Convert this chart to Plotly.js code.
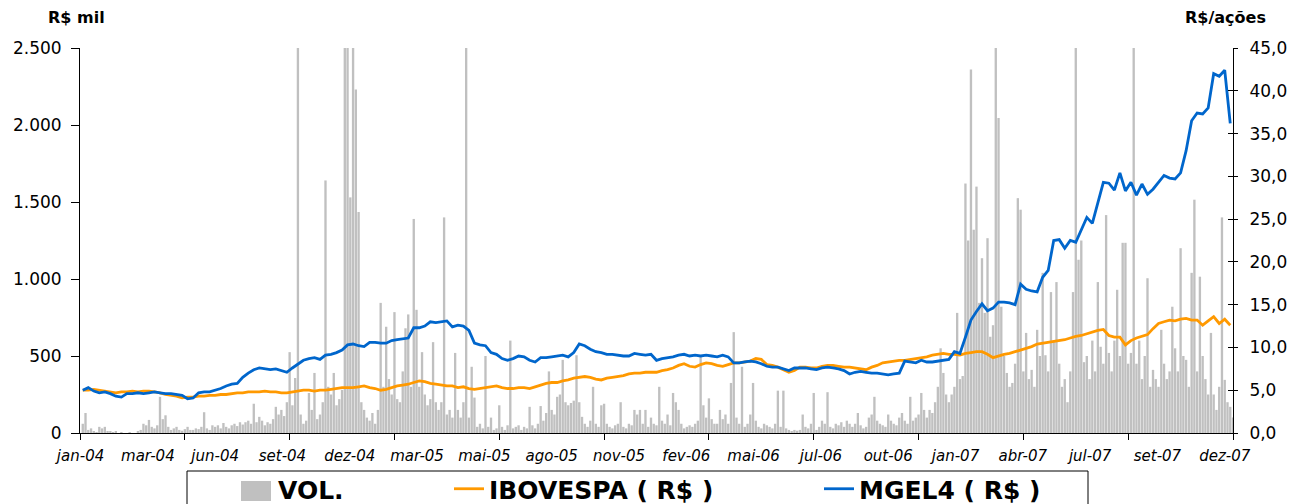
<!DOCTYPE html>
<html><head><meta charset="utf-8">
<script src="https://cdn.plot.ly/plotly-3.0.1.min.js"></script>
<style>html,body{margin:0;padding:0;background:#fff;}#chart{width:1300px;height:504px;}</style>
</head><body><div id="chart"></div>
<script>
// category tick labels (every 61 trading-day slots)
const xLabels = ['jan-04','mar-04','jun-04','set-04','dez-04','mar-05','mai-05','ago-05','nov-05',
  'fev-06','mai-06','jul-06','out-06','jan-07','abr-07','jul-07','set-07','dez-07'];

// VOL. (R$ mil), two readings per week from 2004-01-01
const volume = [
60,130,20,30,10,5,40,30,40,10,
10,5,10,0,5,0,0,5,0,0,
10,20,60,50,85,40,30,50,235,90,
115,40,20,30,40,20,15,25,40,20,
20,30,25,40,135,30,20,50,40,50,
30,65,40,30,50,60,45,70,55,70,
80,60,190,70,105,80,50,70,60,90,
170,120,150,110,200,525,180,357,3000,120,
60,80,260,150,390,90,120,200,1640,300,
250,390,180,220,280,3000,3000,1530,3000,2230,
1435,200,150,100,80,130,60,150,845,300,
690,350,250,785,220,200,400,680,770,300,
1390,800,300,525,250,180,220,590,200,150,
200,1400,120,150,100,520,150,100,200,3000,
100,430,230,40,60,30,500,40,100,20,
30,180,40,20,50,600,30,40,50,20,
40,30,170,50,30,60,175,80,130,400,
150,120,235,250,475,200,180,195,210,505,
200,105,60,40,80,300,60,40,180,190,
60,40,30,50,60,200,40,30,60,50,
150,120,150,60,150,40,100,60,50,300,
80,60,120,50,260,200,150,60,30,40,
50,40,60,80,495,180,100,225,90,60,
60,150,90,120,60,325,655,100,60,430,
40,60,120,325,80,40,30,60,50,40,
30,60,275,40,275,30,20,10,20,15,
20,120,40,30,60,260,20,40,80,60,
265,40,30,60,50,70,40,80,60,40,
60,130,50,30,40,100,120,235,80,60,
50,40,120,80,60,50,100,130,80,60,
235,80,100,120,260,150,100,150,130,200,
300,550,390,250,200,250,300,780,350,370,
1620,1250,2360,1320,1600,845,1135,780,1265,625,
700,3000,2045,820,500,390,300,325,450,1525,
1450,400,650,350,410,300,670,500,1040,505,
400,915,600,980,450,300,350,200,400,915,
3000,1125,1250,460,500,350,600,400,980,560,
450,1415,520,400,600,930,500,1235,1235,450,
520,3000,450,600,350,500,1005,300,410,350,
300,670,450,350,400,820,550,400,1200,500,
475,300,1040,1515,400,1015,500,350,250,650,
250,150,300,1400,345,200,170,100];

// IBOVESPA (R$), weekly
const ibovespa = [
5.0,5.0,5.1,5.0,4.9,4.8,4.7,4.8,4.8,4.9,
4.8,4.9,4.9,4.8,4.7,4.5,4.4,4.3,4.1,4.2,
4.2,4.3,4.3,4.4,4.4,4.5,4.5,4.6,4.7,4.7,
4.8,4.8,4.8,4.9,4.8,4.8,4.7,4.7,4.8,4.9,
5.0,5.0,4.9,5.0,5.0,5.1,5.2,5.3,5.3,5.3,
5.4,5.5,5.3,5.2,5.0,5.1,5.3,5.5,5.6,5.7,
5.9,6.1,6.0,5.8,5.7,5.6,5.5,5.5,5.3,5.4,
5.2,5.1,5.2,5.3,5.4,5.5,5.3,5.2,5.2,5.3,
5.3,5.2,5.4,5.6,5.8,5.9,5.9,6.1,6.2,6.4,
6.5,6.6,6.5,6.3,6.2,6.4,6.5,6.6,6.7,6.9,
7.0,7.0,7.1,7.1,7.1,7.3,7.4,7.6,7.9,8.1,
7.8,7.7,8.0,8.2,8.1,7.9,7.8,8.0,8.2,8.2,
8.3,8.4,8.7,8.6,8.0,7.9,7.7,7.4,7.1,7.3,
7.7,7.7,7.6,7.6,7.8,7.9,7.9,7.8,7.7,7.7,
7.6,7.5,7.4,7.7,7.9,8.2,8.3,8.4,8.5,8.5,
8.6,8.7,8.8,8.9,9.1,9.2,9.3,9.2,9.2,9.1,
9.3,9.4,9.5,9.5,9.2,8.8,9.0,9.2,9.3,9.5,
9.7,9.9,10.1,10.4,10.5,10.6,10.7,10.8,10.9,11.1,
11.3,11.4,11.6,11.8,12.0,12.1,11.4,11.2,11.2,10.3,
10.8,11.1,11.3,11.5,12.2,12.8,13.0,13.2,13.1,13.3,
13.4,13.2,13.2,12.6,13.1,13.6,12.8,13.3,12.6];

// MGEL4 (R$), weekly
const mgel4 = [
5.0,5.3,4.9,4.7,4.8,4.6,4.3,4.2,4.6,4.6,
4.7,4.6,4.7,4.8,4.7,4.6,4.6,4.5,4.4,4.0,
4.1,4.7,4.8,4.8,5.0,5.2,5.5,5.7,5.8,6.5,
7.0,7.4,7.6,7.5,7.4,7.5,7.3,7.1,7.6,8.1,
8.5,8.7,8.8,8.6,9.1,9.2,9.4,9.7,10.3,10.4,
10.2,10.1,10.6,10.6,10.5,10.5,10.8,10.9,11.0,11.1,
12.3,12.3,12.5,13.0,12.9,13.0,13.1,12.4,12.6,12.5,
12.0,10.5,10.3,10.2,9.4,9.2,8.7,8.5,8.7,9.0,
8.9,8.5,8.3,8.8,8.8,8.9,9.0,9.1,8.9,9.4,
10.4,10.2,9.8,9.5,9.4,9.2,9.2,9.1,9.0,9.0,
9.3,9.2,9.1,9.2,8.5,8.7,8.8,8.9,9.1,9.2,
9.0,9.1,9.0,9.1,9.0,8.9,9.1,8.9,8.2,8.2,
8.3,8.4,8.3,8.1,7.8,7.7,7.7,7.5,7.3,7.6,
7.6,7.6,7.5,7.4,7.6,7.7,7.6,7.5,7.3,6.9,
7.1,7.2,7.1,7.0,7.0,6.9,6.8,6.9,7.0,8.4,
8.3,8.2,8.5,8.3,8.3,8.4,8.5,8.6,9.5,9.3,
11.2,13.2,14.2,15.1,14.3,14.6,15.3,15.3,15.2,15.0,
17.4,16.8,16.6,16.5,18.2,19.0,22.5,22.6,21.6,22.5,
22.3,23.8,25.2,24.5,27.0,29.3,29.2,28.4,30.4,28.3,
29.3,27.8,29.1,27.9,28.5,29.3,30.1,29.8,29.7,30.4,
33.0,36.5,37.4,37.3,38.0,42.0,41.7,42.4,36.2];

const DAY = 86400000, T0 = Date.UTC(2004, 0, 1);
const iso = ms => new Date(ms).toISOString().slice(0, 19).replace('T', ' ');
const volX = volume.map((_, j) => iso(T0 + (3.5 * j + 3.5) * DAY));
const lineX = mgel4.map((_, i) => iso(T0 + (7 * i + 3.5) * DAY));
const xRange = [iso(T0), iso(T0 + 1463 * DAY)];
const labelVals = xLabels.map((_, k) => iso(T0 + (85.4 * k + 0.7) * DAY));
const tickMarkVals = Array.from({length: 12}, (_, m) => iso(T0 + 133 * m * DAY));

// layout helpers (plot area: x 80..1233 px, y 48..433 px)
const W = 1300, H = 504;
const PL = 80, PW = 1153, PB = 433, PH = 385;
const px = v => (v - PL) / PW;
const py = v => (PB - v) / PH;
const cx = v => v / W;
const cy = v => (H - v) / H;
const FONT = 'DejaVu Sans, Verdana, sans-serif';

const traces = [
  {type: 'bar', name: 'VOL.', x: volX, y: volume, xaxis: 'x', yaxis: 'y',
   marker: {color: '#C0C0C0', line: {width: 0}}, legend: 'legend', hoverinfo: 'skip', showlegend: true},
  {type: 'scatter', mode: 'lines', name: 'IBOVESPA ( R$ )', x: lineX, y: ibovespa,
   xaxis: 'x2', yaxis: 'y2', line: {color: '#FF9900', width: 2.8}, legend: 'legend2', showlegend: true},
  {type: 'scatter', mode: 'lines', name: 'MGEL4 ( R$ )', x: lineX, y: mgel4,
   xaxis: 'x2', yaxis: 'y3', line: {color: '#0066CC', width: 2.8}, legend: 'legend3', showlegend: true}
];

const legFont = {family: FONT, size: 25, color: '#000', weight: 'bold'};
const legBase = {orientation: 'h', xref: 'container', yref: 'container', xanchor: 'left', yanchor: 'middle',
  y: cy(489), bgcolor: 'rgba(0,0,0,0)', borderwidth: 0, font: legFont, itemwidth: 30, visible: true};

const layout = {
  width: W, height: H,
  margin: {l: PL, r: W - PL - PW, t: 48, b: H - PB, pad: 0, autoexpand: false},
  paper_bgcolor: '#fff', plot_bgcolor: '#fff',
  separators: ',.',
  showlegend: true,
  bargap: 0.15,
  font: {family: FONT, color: '#000'},
  xaxis: {type: 'date', range: xRange, tickmode: 'array', tickvals: labelVals, ticktext: xLabels,
    ticks: 'outside', ticklen: 9, tickcolor: 'rgba(0,0,0,0)', showline: true, linecolor: '#000',
    linewidth: 1, showgrid: false, zeroline: false,
    tickfont: {family: FONT, size: 15, style: 'italic', color: '#000'}},
  xaxis2: {type: 'date', range: xRange, overlaying: 'x', anchor: 'y', tickmode: 'array',
    tickvals: tickMarkVals, ticks: 'outside', ticklen: 6, tickcolor: '#000', tickwidth: 1,
    showticklabels: false, showline: false, showgrid: false, zeroline: false},
  yaxis: {range: [0, 2500], dtick: 500, tickformat: ',d', ticks: 'outside', ticklen: 8,
    tickcolor: '#000', showline: true, linecolor: '#000', linewidth: 1, showgrid: false,
    zeroline: false, ticklabelstandoff: 6, tickfont: {family: FONT, size: 17, color: '#000'}},
  yaxis2: {range: [0, 45], dtick: 5, tickformat: '.1f', overlaying: 'y', side: 'right', anchor: 'x',
    ticks: 'outside', ticklen: 4, tickcolor: '#000', showline: true, linecolor: '#000',
    linewidth: 1, showgrid: false, zeroline: false, ticklabelstandoff: 8,
    tickfont: {family: FONT, size: 17, color: '#000'}},
  yaxis3: {range: [0, 45], dtick: 5, overlaying: 'y', side: 'right', anchor: 'x',
    ticks: 'inside', ticklen: 5, tickcolor: '#000', showticklabels: false, showline: false,
    showgrid: false, zeroline: false},
  legend: Object.assign({}, legBase, {x: cx(238)}),
  legend2: Object.assign({}, legBase, {x: cx(449)}),
  legend3: Object.assign({}, legBase, {x: cx(819)}),
  shapes: [
    {type: 'rect', xref: 'paper', yref: 'paper', x0: px(187), x1: px(1088),
     y0: py(471), y1: py(540), line: {color: '#000', width: 1}, fillcolor: 'rgba(0,0,0,0)', layer: 'below'},
    // enlarged key swatch for the VOL. legend entry
    {type: 'rect', xref: 'paper', yref: 'paper', x0: px(241), x1: px(271),
     y0: py(481), y1: py(501), line: {width: 0}, fillcolor: '#C0C0C0', layer: 'above'}
  ],
  annotations: [
    {text: 'R$ mil', xref: 'paper', yref: 'paper', x: px(76), y: py(18), showarrow: false,
     xanchor: 'center', yanchor: 'middle', font: {family: FONT, size: 16, weight: 'bold', color: '#000'}},
    {text: 'R$/ações', xref: 'paper', yref: 'paper', x: px(1225), y: py(18), showarrow: false,
     xanchor: 'center', yanchor: 'middle', font: {family: FONT, size: 16, weight: 'bold', color: '#000'}}
  ],
  hovermode: false
};

Plotly.newPlot('chart', traces, layout, {displayModeBar: false, responsive: false});
</script></body></html>
